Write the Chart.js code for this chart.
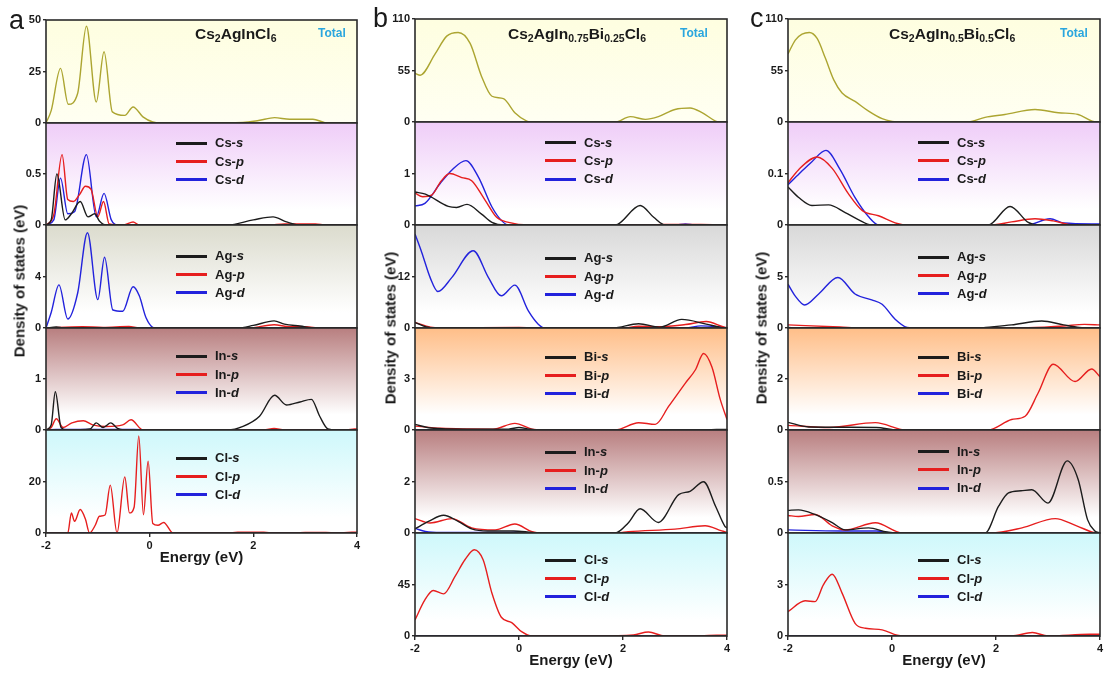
<!DOCTYPE html>
<html>
<head>
<meta charset="utf-8">
<script src="https://cdn.jsdelivr.net/npm/chart.js@4.4.1/dist/chart.umd.min.js"></script>
<style>
  body { margin: 0; background: #fff; }
  #wrap { position: relative; width: 1105px; height: 673px; overflow: hidden; font-family: 'Liberation Sans', Arial, sans-serif; color: #1a1a1a; }
  #wrap canvas { position: absolute; }
  .letter { position: absolute; font-size: 27px; line-height: 30px; }
  .ttl { position: absolute; font-weight: bold; font-size: 15.5px; line-height: 18px; white-space: nowrap; }
  .ttl sub { font-size: 0.68em; vertical-align: baseline; position: relative; top: 0.3em; }
  .tot { position: absolute; font-weight: bold; font-size: 12px; line-height: 14px; color: #2aa6de; }
  .ytitle { position: absolute; font-weight: bold; font-size: 15px; white-space: nowrap; transform: translate(-50%, -50%) rotate(-90deg); }
  .leg { position: absolute; font-weight: bold; font-size: 13px; line-height: 16px; white-space: nowrap; }
  .legline { position: absolute; width: 31px; height: 3px; }
</style>
</head>
<body>
<div id="wrap"></div>
<script>
// ---- panel a : Cs2AgInCl6 ----
const aNames = ['Total', 'Cs', 'Ag', 'In', 'Cl'];
const aMax = [50, 1, 8, 2, 40];
const a_total = [[-2,0],[-1.9,6],[-1.72,26.5],[-1.57,9.1],[-1.39,14.3],[-1.22,47],[-1.03,10.2],[-0.88,34.6],[-0.72,5.4],[-0.48,3.7],[-0.32,7.8],[-0.13,3],[0.06,0.5],[0.2,0],[1.8,0.3],[2.1,1.2],[2.41,2.6],[2.7,1.8],[3.15,1.8],[3.38,0.2],[3.5,0],[4,0]];
const a_cs_s = [[-2,0],[-1.9,0.05],[-1.79,0.5],[-1.63,0.05],[-1.51,0.11],[-1.34,0.23],[-1.19,0.08],[-1.06,0.11],[-0.97,0.04],[-0.84,0],[1.5,0],[2.0,0.05],[2.38,0.08],[2.64,0.03],[2.9,0],[4,0]];
const a_cs_p = [[-2,0],[-1.85,0.1],[-1.69,0.69],[-1.58,0.25],[-1.47,0.23],[-1.35,0.3],[-1.24,0.38],[-1.13,0.35],[-1.0,0.08],[-0.89,0.23],[-0.78,0.01],[-0.5,0],[-0.32,0.03],[-0.2,0],[2.3,0],[2.6,0.01],[3.2,0.01],[3.4,0],[4,0]];
const a_cs_d = [[-2,0],[-1.85,0.05],[-1.72,0.46],[-1.58,0.11],[-1.45,0.13],[-1.22,0.69],[-1.03,0.08],[-0.88,0.31],[-0.74,0.05],[-0.62,0],[4,0]];
const a_ag_s = [[-2,0],[-1.8,0.08],[-1.65,0],[1.7,0],[2.0,0.2],[2.4,0.55],[2.6,0.3],[2.9,0.15],[3.2,0],[4,0]];
const a_ag_p = [[-2,0],[-1.3,0.1],[-0.9,0.05],[-0.4,0.12],[-0.2,0],[1.9,0],[2.4,0.25],[2.7,0.1],[3.0,0.1],[3.3,0],[4,0]];
const a_ag_d = [[-2,0],[-1.9,1.2],[-1.75,3.35],[-1.58,0.7],[-1.39,2.7],[-1.2,7.4],[-1.0,2.2],[-0.87,5.5],[-0.71,1.4],[-0.52,1.3],[-0.32,3.2],[-0.2,2.5],[-0.07,0.8],[0.1,0],[4,0]];
const a_in_s = [[-2,0],[-1.9,0.1],[-1.82,0.75],[-1.71,0.05],[-1.6,0],[-1.15,0.02],[-1.03,0.14],[-0.9,0.05],[-0.75,0.14],[-0.62,0.03],[-0.5,0],[1.5,0],[1.8,0.07],[2.12,0.27],[2.41,0.68],[2.64,0.49],[2.9,0.55],[3.12,0.6],[3.28,0.27],[3.44,0.02],[3.6,0],[4,0]];
const a_in_p = [[-2,0],[-1.9,0.05],[-1.8,0.22],[-1.67,0.05],[-1.5,0.14],[-1.28,0.18],[-1.1,0.1],[-0.84,0.07],[-0.52,0.1],[-0.36,0.2],[-0.13,0],[2.2,0],[2.4,0.03],[2.6,0],[3.8,0],[3.95,0.02],[4,0.02]];
const a_in_d = [[-2,0],[-1.8,0.01],[-0.3,0.01],[0,0],[4,0]];
const a_cl_s = [[-2,0],[4,0]];
const a_cl_p = [[-2,0],[-1.58,0],[-1.51,7.8],[-1.45,4.5],[-1.34,9.1],[-1.24,5.4],[-1.16,0],[-1.05,3],[-0.97,6.5],[-0.86,7],[-0.76,18.6],[-0.63,0],[-0.48,21.8],[-0.39,7.8],[-0.3,10],[-0.21,37.7],[-0.12,7.1],[-0.03,27.9],[0.06,3.7],[0.16,3],[0.27,4.1],[0.45,0],[1.5,0],[1.7,0.3],[2.2,0.3],[2.4,0],[2.8,0],[3.0,0.2],[3.4,0.2],[3.6,0],[3.9,0.3],[4,0.3]];
const a_cl_d = [[-2,0],[4,0]];

// ---- panel b : Cs2AgIn0.75Bi0.25Cl6 ----
const bNames = ['Total', 'Cs', 'Ag', 'Bi', 'In', 'Cl'];
const bMax = [110, 2, 24, 6, 4, 90];
const b_total = [[-2,52],[-1.9,50],[-1.61,73],[-1.39,91.7],[-1.17,95.6],[-0.94,84],[-0.72,48.7],[-0.52,27.5],[-0.3,25],[-0.08,10],[0.15,1],[0.25,0],[1.85,0],[2.14,5.7],[2.43,2.8],[2.68,5.7],[3.0,13.4],[3.29,15],[3.52,10],[3.78,1],[3.87,0],[4,0]];
const b_cs_s = [[-2,0.64],[-1.8,0.6],[-1.36,0.36],[-1.2,0.34],[-1.0,0.4],[-0.72,0.21],[-0.52,0.05],[-0.28,0],[1.85,0],[2.33,0.38],[2.59,0.15],[2.81,0],[4,0]];
const b_cs_p = [[-2,0.62],[-1.85,0.55],[-1.68,0.58],[-1.5,0.85],[-1.33,1.0],[-1.1,0.92],[-0.91,0.86],[-0.65,0.48],[-0.43,0.15],[-0.2,0.05],[0.2,0],[2.5,0],[2.8,0.01],[3.5,0.01],[4,0]];
const b_cs_d = [[-2,0.37],[-1.81,0.42],[-1.52,0.8],[-1.29,1.07],[-1.02,1.25],[-0.78,0.93],[-0.52,0.35],[-0.33,0.08],[-0.2,0],[3.0,0],[3.2,0.02],[3.4,0],[4,0]];
const b_ag_s = [[-2,1.3],[-1.8,0.3],[-1.6,0],[1.8,0],[2.3,1.0],[2.7,0.2],[3.13,2.0],[3.6,0.9],[3.9,0.1],[4,0]];
const b_ag_p = [[-2,1.3],[-1.7,0.2],[-1.5,0.05],[0,0.1],[0.3,0],[2.0,0],[2.3,0.4],[2.7,0.3],[3.2,0.8],[3.6,1.5],[3.95,0.2],[4,0.1]];
const b_ag_d = [[-2,21.9],[-1.87,17.6],[-1.71,11.8],[-1.56,8.5],[-1.29,11.8],[-0.88,18],[-0.59,11.8],[-0.34,7.5],[-0.08,10],[0.18,4],[0.37,0.9],[0.5,0],[3.2,0],[3.5,0.5],[3.8,0.3],[4,0]];
const b_bi_s = [[-2,0.33],[-1.7,0.12],[-1,0.05],[-0.2,0.05],[0,0.15],[0.2,0.05],[0.4,0],[3.6,0],[3.8,0.03],[4,0.03]];
const b_bi_p = [[-2,0.23],[-1.5,0.1],[-0.5,0.05],[-0.08,0.39],[0.25,0.05],[0.43,0],[1.85,0],[2.3,0.43],[2.62,0.33],[2.88,1.4],[3.2,2.76],[3.39,3.53],[3.55,4.5],[3.71,3.7],[3.87,1.8],[4,0.62]];
const b_bi_d = [[-2,0.02],[-1.5,0],[4,0]];
const b_in_s = [[-2,0.16],[-1.74,0.45],[-1.45,0.69],[-1.17,0.45],[-0.91,0.16],[-0.6,0.08],[-0.1,0.08],[0.25,0.02],[0.4,0],[1.85,0],[2.1,0.39],[2.33,0.94],[2.68,0.41],[3.07,1.49],[3.29,1.62],[3.55,1.99],[3.78,1.04],[3.96,0.26],[4,0.2]];
const b_in_p = [[-2,0.56],[-1.71,0.39],[-1.29,0.56],[-0.91,0.2],[-0.46,0.12],[-0.08,0.35],[0.25,0.05],[0.45,0],[1.9,0],[2.1,0.05],[3.0,0.15],[3.58,0.28],[3.9,0.08],[4,0.03]];
const b_in_d = [[-2,0.18],[-1.8,0.06],[-1.5,0.02],[-0.2,0.02],[0,0.05],[0.2,0],[4,0]];
const b_cl_s = [[-2,0],[4,0]];
const b_cl_p = [[-2,14],[-1.81,31.5],[-1.65,39.7],[-1.45,36.8],[-1.23,52],[-1.04,66.6],[-0.86,75.4],[-0.69,66.6],[-0.52,37.4],[-0.34,16.4],[-0.14,11.7],[0.05,3.8],[0.25,0],[1.5,0],[2.2,1],[2.49,3.5],[2.8,0],[3.5,0],[3.8,0.8],[4,0.8]];
const b_cl_d = [[-2,0],[4,0]];

// ---- panel c : Cs2AgIn0.5Bi0.5Cl6 ----
const cNames = ['Total', 'Cs', 'Ag', 'Bi', 'In', 'Cl'];
const cMax = [110, 0.2, 10, 4, 1, 6];
const c_total = [[-2,72.7],[-1.86,87.5],[-1.73,93.8],[-1.59,95.6],[-1.44,89.2],[-1.28,68],[-1.12,45],[-0.96,31],[-0.71,22],[-0.45,11.6],[-0.19,3.5],[0,0.7],[0.2,0],[1.47,0],[1.79,5],[2.17,8],[2.75,13.4],[3.2,9.9],[3.58,8],[3.85,1],[4,0]];
const c_cs_s = [[-2,0.074],[-1.8,0.054],[-1.54,0.038],[-1.22,0.039],[-0.9,0.024],[-0.64,0.01],[-0.4,0],[1.85,0],[2.27,0.036],[2.62,0.005],[2.8,0],[4,0]];
const c_cs_p = [[-2,0.082],[-1.8,0.107],[-1.44,0.132],[-1.15,0.11],[-0.84,0.061],[-0.57,0.028],[-0.26,0.018],[0.1,0.003],[0.3,0],[1.9,0],[2.3,0.006],[2.75,0.012],[3.1,0.008],[3.5,0],[4,0]];
const c_cs_d = [[-2,0.078],[-1.78,0.1],[-1.54,0.123],[-1.27,0.145],[-1.0,0.108],[-0.71,0.053],[-0.45,0.016],[-0.25,0],[2.6,0],[3.04,0.012],[3.3,0.004],[4,0.002]];
const c_ag_s = [[-2,0.05],[-1.8,0],[1.7,0],[1.8,0.05],[2.3,0.3],[2.88,0.68],[3.3,0.3],[3.6,0.05],[4,0]];
const c_ag_p = [[-2,0.3],[-1.0,0.1],[-0.6,0],[2.5,0],[3.3,0.2],[3.7,0.35],[4,0.3]];
const c_ag_d = [[-2,4.25],[-1.86,3.1],[-1.68,2.24],[-1.41,3.3],[-1.04,4.9],[-0.71,3.3],[-0.39,2.73],[-0.19,2.3],[0.06,0.85],[0.29,0.05],[0.4,0],[4,0]];
const c_bi_s = [[-2,0.3],[-1.6,0.12],[-0.3,0.1],[0.1,0],[4,0]];
const c_bi_p = [[-2,0.18],[-1.2,0.1],[-0.32,0.29],[0.27,0],[1.85,0],[2.3,0.41],[2.56,0.54],[2.81,1.45],[3.1,2.58],[3.52,1.9],[3.84,2.39],[4,2.09]];
const c_bi_d = [[-2,0],[4,0]];
const c_in_s = [[-2,0.22],[-1.8,0.225],[-1.48,0.18],[-1.15,0.1],[-0.9,0.03],[-0.45,0.05],[-0.1,0.01],[0.1,0],[1.79,0],[2.05,0.26],[2.24,0.39],[2.48,0.41],[2.69,0.42],[3.0,0.29],[3.37,0.7],[3.58,0.52],[3.76,0.13],[3.9,0.02],[4,0]];
const c_in_p = [[-2,0.17],[-1.8,0.16],[-1.48,0.18],[-1.15,0.07],[-0.9,0.03],[-0.32,0.1],[0.2,0],[1.9,0],[2.5,0.05],[3.14,0.14],[3.55,0.07],[3.95,0],[4,0]];
const c_in_d = [[-2,0.03],[-1.0,0.02],[-0.3,0.02],[0,0],[4,0]];
const c_cl_s = [[-2,0],[4,0]];
const c_cl_p = [[-2,1.42],[-1.67,2.05],[-1.48,2.0],[-1.32,2.98],[-1.15,3.6],[-0.96,2.5],[-0.71,0.74],[-0.51,0.45],[-0.19,0.36],[0.1,0.05],[0.3,0],[2.3,0],[2.7,0.2],[3.0,0],[3.8,0.1],[4,0.1]];
const c_cl_d = [[-2,0],[4,0]];

const energyTicks = [-2, 0, 2, 4];
const orbitals = ['s', 'p', 'd'];

// layout of the three columns (page pixels)
const columns = [
  { L: 46, R: 357, T: 20, B: 533, names: aNames, maxes: aMax, legTop: [0, 20, 31, 28, 28],
    title: 'Cs<sub>2</sub>AgInCl<sub>6</sub>', titleX: 195, totalX: 318,
    letter: 'a', letterX: 9, ytX: 19, ytY: 281, agTop: '#dbdbcd',
    curves: [[a_total], [a_cs_s, a_cs_p, a_cs_d], [a_ag_s, a_ag_p, a_ag_d], [a_in_s, a_in_p, a_in_d], [a_cl_s, a_cl_p, a_cl_d]] },
  { L: 415, R: 727, T: 19, B: 636, names: bNames, maxes: bMax, legTop: [0, 20.6, 33, 29, 22, 27],
    title: 'Cs<sub>2</sub>AgIn<sub>0.75</sub>Bi<sub>0.25</sub>Cl<sub>6</sub>', titleX: 508, totalX: 680,
    letter: 'b', letterX: 373, ytX: 389.5, ytY: 327.5, agTop: '#d8d8d8',
    curves: [[b_total], [b_cs_s, b_cs_p, b_cs_d], [b_ag_s, b_ag_p, b_ag_d], [b_bi_s, b_bi_p, b_bi_d], [b_in_s, b_in_p, b_in_d], [b_cl_s, b_cl_p, b_cl_d]] },
  { L: 788, R: 1100, T: 19, B: 636, names: cNames, maxes: cMax, legTop: [0, 20.6, 32, 29, 21.6, 27],
    title: 'Cs<sub>2</sub>AgIn<sub>0.5</sub>Bi<sub>0.5</sub>Cl<sub>6</sub>', titleX: 889, totalX: 1060,
    letter: 'c', letterX: 750, ytX: 761, ytY: 328, agTop: '#d8d8d8',
    curves: [[c_total], [c_cs_s, c_cs_p, c_cs_d], [c_ag_s, c_ag_p, c_ag_d], [c_bi_s, c_bi_p, c_bi_d], [c_in_s, c_in_p, c_in_d], [c_cl_s, c_cl_p, c_cl_d]] }
];

const orbColors = ['#1c1c1c', '#e61e1e', '#2222dc'];
const totalColor = '#aca531';
const bgTop = { Total: '#fefee0', Cs: '#efcdf8', Bi: '#ffbe88', In: '#b87e7f', Cl: '#cef8fb' };

Chart.defaults.font.family = "'Liberation Sans', Arial, sans-serif";

// gradient background + frame for every small panel
const panelBox = {
  id: 'panelBox',
  beforeDraw(chart, args, opts) {
    const { ctx, chartArea: a } = chart;
    const g = ctx.createLinearGradient(0, a.top, 0, a.bottom);
    g.addColorStop(0, opts.top);
    g.addColorStop(opts.stop, opts.bottom);
    g.addColorStop(1, opts.bottom);
    ctx.save();
    ctx.fillStyle = g;
    ctx.fillRect(a.left, a.top, a.width, a.height);
    ctx.restore();
  },
  afterDraw(chart) {
    const { ctx, chartArea: a } = chart;
    ctx.save();
    ctx.strokeStyle = '#2a2a2a';
    ctx.lineWidth = 1.6;
    ctx.strokeRect(a.left, a.top, a.width, a.height);
    ctx.restore();
  }
};

const wrap = document.getElementById('wrap');

function addDiv(cls, html, left, top) {
  const d = document.createElement('div');
  d.className = cls;
  d.innerHTML = html;
  d.style.left = left + 'px';
  d.style.top = top + 'px';
  wrap.appendChild(d);
  return d;
}

columns.forEach(col => {
  const n = col.names.length;
  const ph = (col.B - col.T) / n;
  col.names.forEach((name, i) => {
    const top = Math.round(col.T + i * ph);
    const bot = Math.round(col.T + (i + 1) * ph);
    const isLast = i === n - 1;
    const padT = 9, padB = 9, yw = 34, padR = 14, xh = isLast ? 34 : 0;
    const max = col.maxes[i];
    const yTicks = name === 'Total' ? [0, max / 2, max] : [0, max / 2];

    const cv = document.createElement('canvas');
    cv.width = yw + (col.R - col.L) + padR;
    cv.height = padT + (bot - top) + xh + padB;
    cv.style.left = (col.L - yw) + 'px';
    cv.style.top = (top - padT) + 'px';
    wrap.appendChild(cv);

    const datasets = col.curves[i].map((pts, k) => ({
      data: pts.map(p => ({ x: p[0], y: p[1] })),
      borderColor: name === 'Total' ? totalColor : orbColors[k],
      borderWidth: 1.4,
      pointRadius: 0,
      fill: false,
      cubicInterpolationMode: 'monotone'
    }));

    const topColor = name === 'Ag' ? col.agTop : bgTop[name];

    new Chart(cv, {
      type: 'line',
      data: { datasets: datasets },
      plugins: [panelBox],
      options: {
        responsive: false,
        animation: false,
        events: [],
        layout: { padding: { top: padT, bottom: padB, left: 0, right: padR } },
        plugins: {
          legend: { display: false },
          tooltip: { enabled: false },
          panelBox: { top: topColor, bottom: name === 'Total' ? '#fffff2' : '#ffffff', stop: name === 'Total' ? 1 : 0.85 }
        },
        scales: {
          x: {
            type: 'linear', min: -2, max: 4,
            display: isLast,
            afterBuildTicks: s => { s.ticks = energyTicks.map(v => ({ value: v })); },
            afterFit: s => { s.height = xh; },
            grid: { drawOnChartArea: false, drawTicks: true, tickLength: 4, color: '#2a2a2a', lineWidth: 1.4 },
            border: { display: false },
            ticks: { font: { size: 11, weight: 'bold' }, color: '#1a1a1a', padding: 2, maxRotation: 0 },
            title: { display: true, text: 'Energy (eV)', font: { size: 15, weight: 'bold' }, color: '#1a1a1a', padding: { top: 0, bottom: 0 } }
          },
          y: {
            min: 0, max: max,
            afterBuildTicks: s => { s.ticks = yTicks.map(v => ({ value: v })); },
            afterFit: s => { s.width = yw; },
            grid: { drawOnChartArea: false, drawTicks: true, tickLength: 3, color: '#2a2a2a', lineWidth: 1.4 },
            border: { display: false },
            ticks: { font: { size: 11, weight: 'bold' }, color: '#1a1a1a', padding: 2, callback: v => String(v) }
          }
        }
      }
    });

    // legend inside the panel
    if (name !== 'Total') {
      orbitals.forEach((orb, k) => {
        const rowY = top + col.legTop[i] + k * 18.2;
        const ln = addDiv('legline', '', col.L + 130, Math.round(rowY - 1.5));
        ln.style.background = orbColors[k];
        addDiv('leg', name + '-<i>' + orb + '</i>', col.L + 169, rowY - 7.6);
      });
    }
  });

  addDiv('ttl', col.title, col.titleX, 25);
  addDiv('tot', 'Total', col.totalX, 26.3);
  addDiv('letter', col.letter, col.letterX, col.letter === 'a' ? 5 : 3);
  addDiv('ytitle', 'Density of states (eV)', col.ytX, col.ytY);
});
</script>
</body>
</html>
